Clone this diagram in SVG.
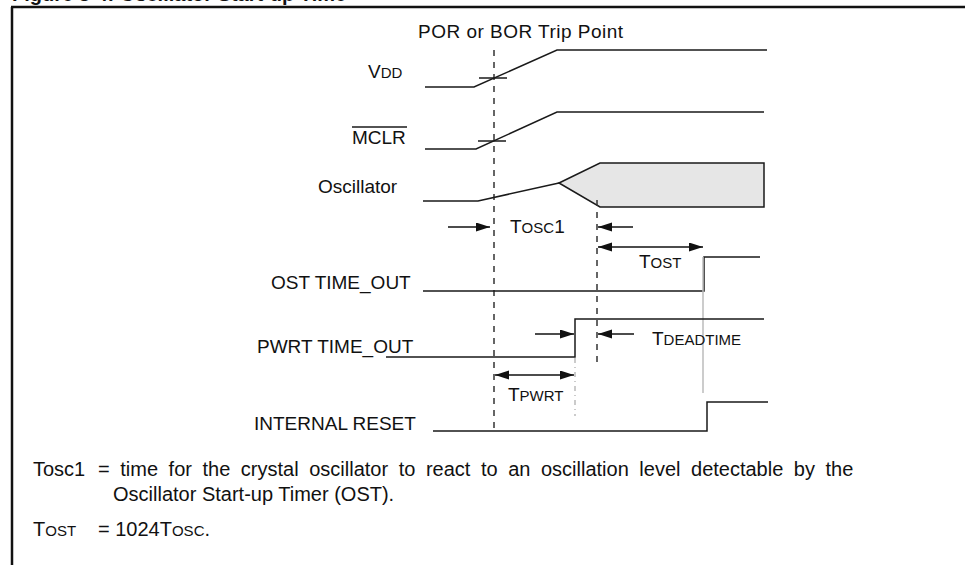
<svg xmlns="http://www.w3.org/2000/svg" width="965" height="565" viewBox="0 0 965 565">
<style>
text{font-family:"Liberation Sans",Arial,sans-serif;fill:#111;font-size:19px}
.sc{font-size:15px}
.fn{font-size:20px}
.fsc{font-size:15px}
.sig{fill:none;stroke:#1a1a1a;stroke-width:1.5}
.dash{fill:none;stroke:#333;stroke-width:1.5;stroke-dasharray:6 6}
.lg{fill:none;stroke:#bbb;stroke-width:1.5}
.lgd{fill:none;stroke:#bbb;stroke-width:1.5;stroke-dasharray:5 4 1 4}
.arr{fill:none;stroke:#111;stroke-width:1.5}
</style>
<defs>
<marker id="ah" markerUnits="userSpaceOnUse" markerWidth="15" markerHeight="10" refX="14" refY="4.5" orient="auto-start-reverse">
<path d="M0,0 L14,4.5 L0,9 z" fill="#111"/>
</marker>
</defs>
<rect width="965" height="565" fill="#fff"/>
<g id="frame">
<text x="12" y="1" style="font-size:20px;font-weight:bold">Figure 3-4: Oscillator Start-up Time</text>
<path d="M11,7 H965 M12,7 V565" fill="none" stroke="#111" stroke-width="2.5"/>
</g>
<g id="trip-point">
<text x="418" y="38" textLength="205">POR or BOR Trip Point</text>
<path class="dash" d="M494,50 V432"/>
</g>
<g id="vdd">
<text x="368" y="78">V<tspan class="sc">DD</tspan></text>
<path class="sig" d="M425,87 H474 L557,50 H767"/>
<path class="sig" d="M479,78 H507"/>
</g>
<g id="mclr">
<text x="352" y="144">MCLR</text>
<path class="sig" d="M352,127 H407"/>
<path class="sig" d="M425,149 H476 L557,112 H764"/>
<path class="sig" d="M478,141 H506"/>
</g>
<g id="oscillator">
<text x="318" y="193">Oscillator</text>
<path class="sig" d="M423,201 H478 L559,183"/>
<path d="M559,183 L600,163 H764 V207 H600 Z" fill="#e6e6e6" stroke="#1a1a1a" stroke-width="1.5"/>
</g>
<g id="ost-start">
<path class="dash" d="M597,200 V364"/>
</g>
<g id="ost-timeout">
<text x="271" y="289">OST TIME_OUT</text>
<path class="sig" d="M423,291 H704 V257 H760"/>
<path class="lg" d="M703,257 V393"/>
</g>
<g id="pwrt-timeout">
<text x="257" y="353">PWRT TIME_OUT</text>
<path class="sig" d="M386,357 H575 V319 H764"/>
<path class="lgd" d="M575,358 V416"/>
</g>
<g id="internal-reset">
<text x="254" y="430">INTERNAL RESET</text>
<path class="sig" d="M433,431 H707 V402 H768"/>
</g>
<g id="labels">
<text x="510" y="233">T<tspan class="sc">OSC</tspan>1</text>
<text x="639" y="268">T<tspan class="sc">OST</tspan></text>
<text x="652" y="345">T<tspan class="sc">DEADTIME</tspan></text>
<text x="508" y="401">T<tspan class="sc">PWRT</tspan></text>
</g>
<g id="connectors">
<path class="arr" d="M448,227 H490" marker-end="url(#ah)"/>
<path class="arr" d="M633,227 H598" marker-end="url(#ah)"/>
<path class="arr" d="M598,247 H703" marker-start="url(#ah)" marker-end="url(#ah)"/>
<path class="arr" d="M535,334 H574" marker-end="url(#ah)"/>
<path class="arr" d="M634,334 H598" marker-end="url(#ah)"/>
<path class="arr" d="M495,375 H574" marker-start="url(#ah)" marker-end="url(#ah)"/>
</g>
<g id="notes">
<text class="fn" x="33" y="476">Tosc1</text>
<text class="fn" x="98" y="476" word-spacing="5">= time for the crystal oscillator to react to an oscillation level detectable by the</text>
<text class="fn" x="113" y="501">Oscillator Start-up Timer (OST).</text>
<text class="fn" x="33" y="536">T<tspan class="fsc">OST</tspan></text>
<text class="fn" x="98" y="536">= 1024T<tspan class="fsc">OSC</tspan>.</text>
</g>
</svg>
